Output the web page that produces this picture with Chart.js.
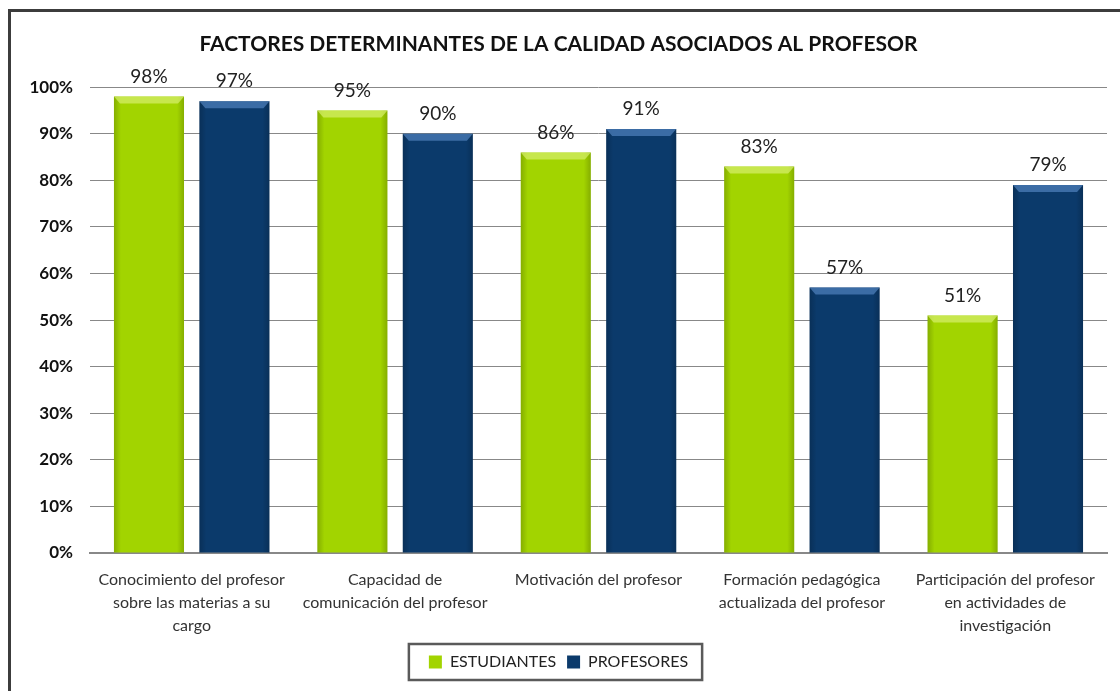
<!DOCTYPE html>
<html>
<head>
<meta charset="utf-8">
<script src="https://cdn.jsdelivr.net/npm/chart.js@4.4.1/dist/chart.umd.min.js"></script>
<style>
  html, body { margin: 0; padding: 0; background: #fff; }
  #wrap { position: relative; width: 1120px; height: 691px; overflow: hidden; }
  #frame { position: absolute; left: 8px; top: 9px; width: 1200px; height: 800px;
           border-left: 3px solid #3c3c3c; border-top: 3px solid #3c3c3c; }
  canvas { position: absolute; left: 0; top: 0; }
</style>
</head>
<body>
<div id="wrap">
  <div id="frame"></div>
  <canvas id="chart" width="1120" height="691"></canvas>
</div>
<script>
const categories = [
  ['Conocimiento del profesor', 'sobre las materias a su', 'cargo'],
  ['Capacidad de', 'comunicación del profesor'],
  ['Motivación del profesor'],
  ['Formación pedagógica', 'actualizada del profesor'],
  ['Participación del profesor', 'en actividades de', 'investigación']
];
const estudiantes = [98, 95, 86, 83, 51];
const profesores = [97, 90, 91, 57, 79];
const seriesNames = ['ESTUDIANTES', 'PROFESORES'];
const titleText = 'FACTORES DETERMINANTES DE LA CALIDAD ASOCIADOS AL PROFESOR';

const FONT = 'Lato, "DejaVu Sans", sans-serif';

// bevel + side shading on top of each bar
const bevelPlugin = {
  id: 'bevel',
  afterDatasetsDraw(chart) {
    const ctx = chart.ctx;
    const tops = ['rgba(215,240,110,0.7)', 'rgba(80,130,190,0.7)'];
    chart.data.datasets.forEach((ds, i) => {
      chart.getDatasetMeta(i).data.forEach(bar => {
        const left = bar.x - bar.width / 2;
        const right = bar.x + bar.width / 2;
        const top = bar.y;
        const h = bar.base - bar.y;
        ctx.save();
        const g = ctx.createLinearGradient(left, 0, right, 0);
        g.addColorStop(0, 'rgba(0,0,0,0.18)');
        g.addColorStop(0.1, 'rgba(0,0,0,0)');
        g.addColorStop(0.9, 'rgba(0,0,0,0)');
        g.addColorStop(1, 'rgba(0,0,0,0.18)');
        ctx.fillStyle = g;
        ctx.fillRect(left, top, right - left, h);
        ctx.beginPath();
        ctx.moveTo(left, top);
        ctx.lineTo(right, top);
        ctx.lineTo(right - 6, top + 7);
        ctx.lineTo(left + 6, top + 7);
        ctx.closePath();
        ctx.fillStyle = tops[i];
        ctx.fill();
        ctx.restore();
      });
    });
  }
};

// value labels above bars
const valueLabels = {
  id: 'valueLabels',
  afterDatasetsDraw(chart) {
    const ctx = chart.ctx;
    ctx.save();
    ctx.font = '19px ' + FONT;
    ctx.fillStyle = '#222';
    ctx.textAlign = 'center';
    ctx.textBaseline = 'middle';
    chart.data.datasets.forEach((ds, i) => {
      chart.getDatasetMeta(i).data.forEach((bar, j) => {
        ctx.fillText(ds.data[j] + '%', bar.x, bar.y - 20);
      });
    });
    ctx.restore();
  }
};

// box around the legend
const legendBox = {
  id: 'legendBox',
  afterDraw(chart) {
    const boxes = chart.legend.legendHitBoxes;
    if (!boxes || !boxes.length) return;
    const l = Math.min(...boxes.map(b => b.left)) - 20;
    const r = Math.max(...boxes.map(b => b.left + b.width)) + 14;
    const t = boxes[0].top - 10;
    const b = boxes[0].top + boxes[0].height + 10;
    const ctx = chart.ctx;
    ctx.save();
    ctx.strokeStyle = '#5a5a5a';
    ctx.lineWidth = 2.5;
    ctx.strokeRect(l, t, r - l, b - t);
    ctx.restore();
  }
};

new Chart(document.getElementById('chart'), {
  type: 'bar',
  data: {
    labels: categories,
    datasets: [
      {
        label: seriesNames[0],
        data: estudiantes,
        backgroundColor: '#a2d400',
        categoryPercentage: 0.84,
        barPercentage: 0.82
      },
      {
        label: seriesNames[1],
        data: profesores,
        backgroundColor: '#0b3a6b',
        categoryPercentage: 0.84,
        barPercentage: 0.82
      }
    ]
  },
  options: {
    responsive: false,
    animation: false,
    layout: { padding: { left: 10, right: 13, top: 0, bottom: 11 } },
    plugins: {
      title: {
        display: true,
        text: titleText,
        color: '#111',
        font: { family: FONT, size: 21, weight: 'bold' },
        padding: { top: 32, bottom: 30 }
      },
      legend: {
        position: 'bottom',
        labels: {
          color: '#222',
          font: { family: FONT, size: 16 },
          boxWidth: 13,
          boxHeight: 13,
          padding: 11
        }
      },
      tooltip: { enabled: false }
    },
    scales: {
      x: {
        grid: { display: false },
        border: { color: '#888', width: 2 },
        ticks: {
          color: '#333',
          font: { family: FONT, size: 16, lineHeight: 1.45 },
          padding: 7,
          maxRotation: 0,
          autoSkip: false
        },
        afterFit(scale) { scale.height = 90; }
      },
      y: {
        min: 0,
        max: 100,
        ticks: {
          stepSize: 10,
          color: '#111',
          font: { family: FONT, size: 17, weight: 'bold' },
          padding: 17,
          callback: v => v + '%'
        },
        grid: { color: '#888', drawTicks: false },
        border: { display: false },
        afterFit(scale) { scale.width = 80; }
      }
    }
  },
  plugins: [bevelPlugin, valueLabels, legendBox]
});
</script>
</body>
</html>
